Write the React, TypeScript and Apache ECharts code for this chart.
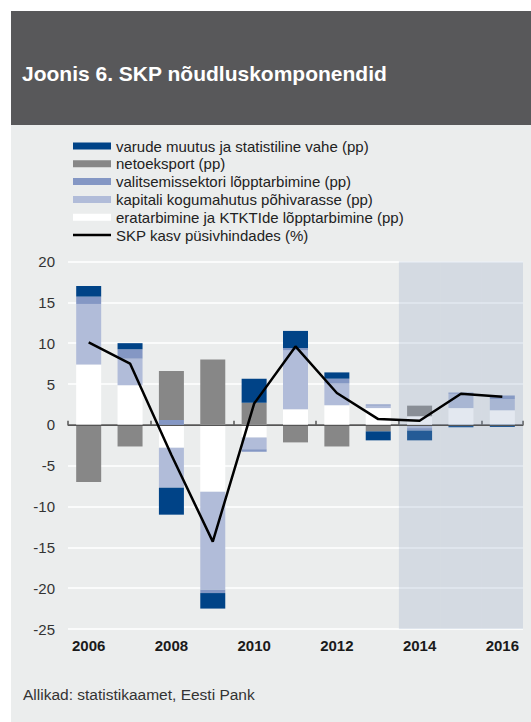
import React, { useEffect, useRef } from "react";
import * as echarts from "echarts";

const years = ["2006", "2007", "2008", "2009", "2010", "2011", "2012", "2013", "2014", "2015", "2016"];
const privateCons = [7.4, 4.85, -2.8, -8.2, -1.55, 1.9, 2.4, 2.05, 1.05, 2.05, 1.8];
const capital = [7.4, 3.25, -4.9, -12.0, -1.45, 7.25, 2.65, 0.3, -0.4, 1.75, 1.35];
const government = [0.9, 1.15, 0.6, -0.4, -0.3, 0.25, 0.6, 0.15, -0.3, 0.15, 0.45];
const netExport = [-7.0, -2.65, 6.0, 8.0, 2.7, -2.15, -2.65, -0.8, 1.3, 0, 0];
const inventory = [1.3, 0.75, -3.3, -1.9, 2.95, 2.1, 0.77, -1.1, -1.2, -0.3, -0.25];
const gdp = [10.1, 7.5, -3.7, -14.3, 2.6, 9.6, 3.9, 0.7, 0.5, 3.8, 3.45];
const forecastYears = ["2014", "2015", "2016"];
const yMin = -25;
const yMax = 20;

const names = {
  inv: "varude muutus ja statistiline vahe (pp)",
  net: "netoeksport (pp)",
  gov: "valitsemissektori lõpptarbimine (pp)",
  cap: "kapitali kogumahutus põhivarasse (pp)",
  priv: "eratarbimine ja KTKTIde lõpptarbimine (pp)",
  gdp: "SKP kasv püsivhindades (%)",
};

const FONT = "Liberation Sans, Arial, sans-serif";

export default function App() {
  const ref = useRef<HTMLDivElement>(null);
  useEffect(() => {
    if (!ref.current) return;
    const chart = echarts.init(ref.current, undefined, { renderer: "svg" });
    const shadeTop = years.map((y) => (forecastYears.includes(y) ? yMax : null));
    const shadeBottom = years.map((y) => (forecastYears.includes(y) ? yMin : null));
    const barBase = {
      type: "bar",
      stack: "a",
      barWidth: 25,
      z: 2,
      xAxisIndex: 0,
    };
    chart.setOption({
      animation: false,
      textStyle: { fontFamily: FONT },
      graphic: [
        { type: "rect", shape: { x: 11, y: 11, width: 520, height: 711 }, style: { fill: "#EBEDED" }, z: -10, silent: true },
        { type: "rect", shape: { x: 11, y: 11, width: 520, height: 114 }, style: { fill: "#58585A" }, z: -9, silent: true },
        {
          type: "text",
          x: 22,
          y: 73,
          style: { text: "Joonis 6. SKP nõudluskomponendid", fill: "#ffffff", font: `bold 21px ${FONT}`, textVerticalAlign: "middle" },
          z: 10,
        },
        {
          type: "text",
          x: 23,
          y: 694,
          style: { text: "Allikad: statistikaamet, Eesti Pank", fill: "#333333", font: `15.5px ${FONT}`, textVerticalAlign: "middle" },
          z: 10,
        },
      ],
      legend: {
        orient: "vertical",
        left: 73,
        top: 138.5,
        padding: 0,
        itemWidth: 38,
        itemHeight: 7,
        itemGap: 2.8,
        selectedMode: false,
        textStyle: { fontSize: 15, color: "#222", lineHeight: 15, fontFamily: FONT },
        data: [
          { name: names.inv, icon: "rect" },
          { name: names.net, icon: "rect" },
          { name: names.gov, icon: "rect" },
          { name: names.cap, icon: "rect" },
          { name: names.priv, icon: "rect" },
          { name: names.gdp, icon: "path://M0 0H38V2.5H0Z" },
        ],
      },
      grid: { left: 68, right: 8, top: 261.5, bottom: 93, containLabel: false },
      xAxis: [
        {
          type: "category",
          data: years,
          boundaryGap: true,
          axisLine: { show: true, lineStyle: { color: "#555", width: 1.5 } },
          axisTick: { show: true, inside: true, length: 4, lineStyle: { color: "#555", width: 1.5 } },
          axisLabel: {
            interval: 1,
            margin: 9,
            fontSize: 15,
            fontWeight: "bold",
            color: "#1a1a1a",
            fontFamily: FONT,
          },
          splitLine: { show: false },
        },
        {
          type: "category",
          data: years,
          boundaryGap: true,
          show: false,
        },
      ],
      yAxis: {
        type: "value",
        min: yMin,
        max: yMax,
        interval: 5,
        axisLine: { show: false },
        axisTick: { show: false },
        axisLabel: { fontSize: 15, color: "#333", margin: 13, fontFamily: FONT },
        splitLine: { show: true, lineStyle: { color: "#ffffff", width: 1.5 } },
      },
      series: [
        { ...barBase, name: names.priv, data: privateCons, itemStyle: { color: "#ffffff" } },
        { ...barBase, name: names.cap, data: capital, itemStyle: { color: "#B1BCD9" } },
        { ...barBase, name: names.gov, data: government, itemStyle: { color: "#8497C4" } },
        { ...barBase, name: names.net, data: netExport, itemStyle: { color: "#878787" } },
        { ...barBase, name: names.inv, data: inventory, itemStyle: { color: "#004387" } },
        {
          type: "bar",
          name: "shadeTop",
          xAxisIndex: 1,
          stack: "shade",
          barWidth: "100%",
          barCategoryGap: "0%",
          data: shadeTop,
          itemStyle: { color: "rgba(143,164,194,0.25)" },
          silent: true,
          z: 3,
        },
        {
          type: "bar",
          name: "shadeBottom",
          xAxisIndex: 1,
          stack: "shade",
          barWidth: "100%",
          barCategoryGap: "0%",
          data: shadeBottom,
          itemStyle: { color: "rgba(143,164,194,0.25)" },
          silent: true,
          z: 3,
        },
        {
          type: "line",
          name: names.gdp,
          data: gdp,
          symbol: "none",
          z: 5,
          lineStyle: { color: "#000", width: 2.5 },
          itemStyle: { color: "#000" },
          markLine: {
            silent: true,
            symbol: "none",
            label: { show: false },
            lineStyle: { color: "#555", width: 1, type: "solid" },
            data: [{ yAxis: 0 }],
          },
        },
      ],
    });
    return () => chart.dispose();
  }, []);
  return (
    <div
      ref={ref}
      style={{ position: "fixed", left: 0, top: 0, width: 531, height: 722, background: "#ffffff" }}
    />
  );
}
